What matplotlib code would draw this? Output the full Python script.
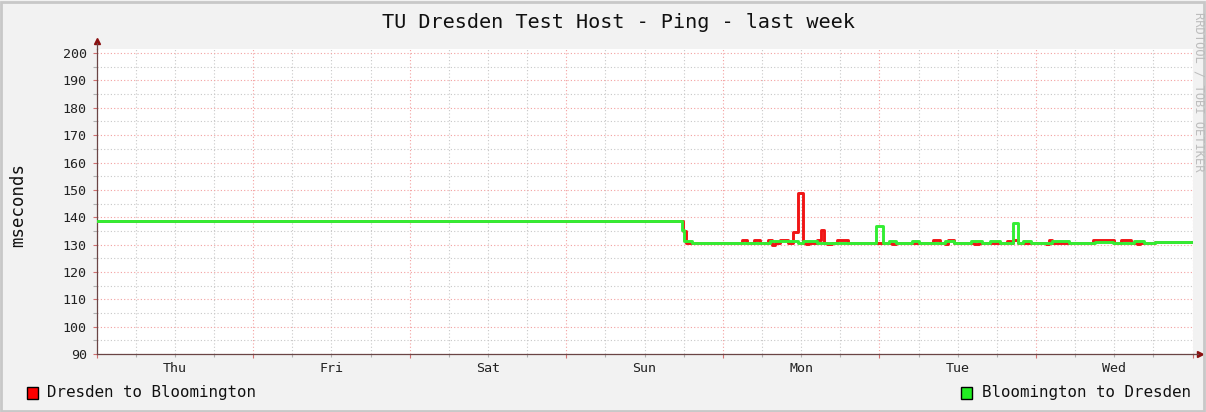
import numpy as np
import matplotlib.pyplot as plt
from matplotlib.patches import Rectangle

# hours since Thu 00:00, one week window
days = ['Thu', 'Fri', 'Sat', 'Sun', 'Mon', 'Tue', 'Wed']

green_hours = [0, 89.75, 90.0, 91.25, 103.25, 107.5, 108.25, 110.5, 119.5, 120.5,
               121.5, 122.5, 125.0, 126.0, 130.0, 131.5, 134.0, 135.75, 137.0, 138.5,
               140.5, 141.25, 142.0, 143.25, 146.5, 149.0, 153.0, 155.75, 159.0, 160.5,
               162.25, 168]
green_ms = [138.5, 135.3, 131.3, 130.7, 131.2, 130.7, 131.2, 130.7, 136.8, 130.7,
            131.3, 130.7, 131.3, 130.7, 131.3, 130.7, 131.3, 130.7, 131.3, 130.7,
            137.8, 130.7, 131.3, 130.7, 131.3, 130.7, 131.0, 130.7, 131.3, 130.7,
            131.0, 131.0]

red_hours = [0, 89.9, 90.3, 99.0, 99.75, 100.75, 101.75, 103.0, 103.5, 104.0,
             104.75, 106.0, 106.75, 107.5, 108.25, 108.75, 109.25, 110.5, 111.0, 111.5,
             112.0, 112.75, 113.5, 115.25, 122.0, 122.5, 128.25, 129.25, 130.0, 130.5,
             131.5, 134.5, 135.25, 139.5, 140.25, 140.5, 141.25, 145.5, 146.0, 146.5,
             152.75, 156.0, 157.0, 158.5, 159.5, 160.0, 162.25, 168]
red_ms = [138.5, 135.0, 130.7, 131.5, 130.7, 131.5, 130.7, 131.5, 130.0, 130.7,
          131.5, 130.7, 134.7, 148.8, 130.7, 130.1, 130.7, 131.7, 135.3, 130.7,
          130.1, 130.7, 131.5, 130.7, 130.1, 130.7, 131.5, 130.7, 130.1, 131.5,
          130.7, 130.1, 130.7, 131.3, 130.7, 131.8, 130.7, 130.1, 131.5, 130.7,
          131.5, 130.7, 131.5, 130.7, 130.1, 130.7, 131.0, 131.0]

W, H = 1206, 412
plt.rcParams['font.family'] = ['DejaVu Sans Mono', 'DejaVu Sans']

fig = plt.figure(figsize=(W / 100, H / 100), dpi=100, facecolor='#F2F2F2')
ax = fig.add_axes([96.5 / W, 58 / H, 1096 / W, 305 / H])
ax.set_facecolor('white')

ax.step(red_hours, red_ms, where='post', color='#F01515', lw=2.1, zorder=3)
ax.step(green_hours, green_ms, where='post', color='#33EE33', lw=2.1, zorder=4)

ax.set_xlim(0, 168)
ax.set_ylim(90, 201.5)

# grid: red at major, gray at minor
ax.set_yticks(np.arange(90, 201, 10))
ax.set_yticks(np.arange(95, 201, 10), minor=True)
midnights = np.arange(0, 169, 24)
quarters = [h for h in range(6, 168, 6) if h % 24 != 0]
ax.set_xticks(midnights)
ax.set_xticklabels([''] * len(midnights))
ax.set_xticks(quarters, minor=True)
ax.set_xticklabels([days[h // 24] if h % 24 == 12 else '' for h in quarters], minor=True)

ax.grid(which='major', color='#F3A0A0', linestyle=(0, (1, 2)), lw=0.8)
ax.grid(which='minor', color='#C8C8C8', linestyle=(0, (1, 2)), lw=0.8)
ax.set_axisbelow(True)

ax.tick_params(axis='both', which='both', labelsize=9.6, colors='#222222', length=3, width=0.8)
ax.tick_params(axis='both', which='major', color='#D07070')
ax.tick_params(axis='both', which='minor', color='#B0B0B0')
ax.tick_params(axis='y', which='major', pad=4)
ax.tick_params(axis='x', which='minor', pad=4, length=2)

for s in ['top', 'right']:
    ax.spines[s].set_visible(False)
for s in ['left', 'bottom']:
    ax.spines[s].set_color('#6A4545')
    ax.spines[s].set_linewidth(0.9)

# axis arrows
ax.plot([0], [1.0 + 8 / 305], marker='^', color='#8B1010', ms=5, transform=ax.transAxes, clip_on=False)
ax.plot([0, 0], [1.0, 1.0 + 6 / 305], color='#6A4545', lw=0.9, transform=ax.transAxes, clip_on=False)
ax.plot([1.0 + 7 / 1096], [0], marker='>', color='#8B1010', ms=5, transform=ax.transAxes, clip_on=False)
ax.plot([1.0, 1.0 + 5 / 1096], [0, 0], color='#6A4545', lw=0.9, transform=ax.transAxes, clip_on=False)

fig.text(618 / W, 1 - 22 / H, 'TU Dresden Test Host - Ping - last week', ha='center', va='center',
         fontsize=14.5, color='#111111')
fig.text(18 / W, 1 - 205 / H, 'mseconds', rotation=90, ha='center', va='center', fontsize=12.5,
         color='#111111')
fig.text(1199 / W, 1 - 92 / H, 'RRDTOOL / TOBI OETIKER', rotation=270, ha='center', va='center',
         fontsize=8.7, color='#BDBDBD')

# legend
fig.patches.append(Rectangle((27 / W, 1 - 399 / H), 11 / W, 12 / H, transform=fig.transFigure,
                             facecolor='#FF0000', edgecolor='black', lw=1))
fig.text(47 / W, 1 - 393 / H, 'Dresden to Bloomington', ha='left', va='center', fontsize=11.4, color='#111111')
fig.patches.append(Rectangle((961 / W, 1 - 399 / H), 11 / W, 12 / H, transform=fig.transFigure,
                             facecolor='#22EE22', edgecolor='black', lw=1))
fig.text(1191 / W, 1 - 393 / H, 'Bloomington to Dresden', ha='right', va='center', fontsize=11.4, color='#111111')

# image frame
fig.patches.append(Rectangle((1 / W, 1 / H), (W - 3) / W, (H - 3) / H, transform=fig.transFigure,
                             fill=False, edgecolor='#C8C8C8', lw=2))

fig.savefig('out.png', dpi=100, facecolor=fig.get_facecolor())
